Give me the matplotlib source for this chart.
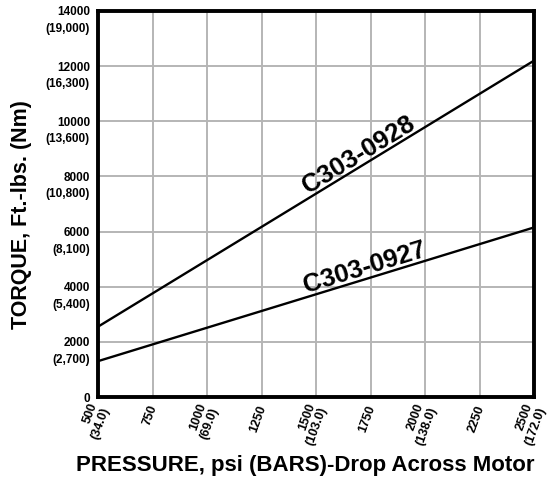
import matplotlib
matplotlib.use("Agg")
import matplotlib.pyplot as plt
import matplotlib.transforms as mtransforms
import numpy as np

plt.rcParams['font.family'] = ['Liberation Sans', 'DejaVu Sans']
plt.rcParams['font.weight'] = 'bold'

# Pressure drop (psi) and torque (ft-lbs) for the two motors
pressure = [500, 2500]
torque_0928 = [2550, 12200]
torque_0927 = [1300, 6150]
series_names = ["C303-0928", "C303-0927"]

x_ticks = [500, 750, 1000, 1250, 1500, 1750, 2000, 2250, 2500]
x_tick_labels = ["500\n(34.0)", "750", "1000\n(69.0)", "1250", "1500\n(103.0)",
                 "1750", "2000\n(138.0)", "2250", "2500\n(172.0)"]
y_ticks = [0, 2000, 4000, 6000, 8000, 10000, 12000, 14000]
y_tick_labels = ["0", "2000\n(2,700)", "4000\n(5,400)", "6000\n(8,100)",
                 "8000\n(10,800)", "10000\n(13,600)", "12000\n(16,300)",
                 "14000\n(19,000)"]
label_x = [1725, 1740]

fig = plt.figure(figsize=(5.51, 4.81), dpi=100)
ax = fig.add_axes([98 / 551, 1 - 398 / 481, 436 / 551, 386 / 481])

ax.set_xlim(500, 2500)
ax.set_ylim(0, 14000)

ax.grid(True, color='#b5b5b5', linewidth=1.4)
ax.set_axisbelow(True)

ax.plot(pressure, torque_0928, color='black', linewidth=1.7, solid_capstyle='butt')
ax.plot(pressure, torque_0927, color='black', linewidth=1.7, solid_capstyle='butt')

for sp in ax.spines.values():
    sp.set_linewidth(2.8)
    sp.set_color('black')

ax.set_xticks(x_ticks)
ax.set_xticklabels(x_tick_labels, rotation=70, ha='right', va='center_baseline',
                   rotation_mode='anchor', multialignment='right',
                   fontsize=9, fontweight='bold', linespacing=1.1)
ax.tick_params(axis='x', length=0, pad=5)

# y tick labels: first line centred on the gridline, metric value beneath it
ax.set_yticks(y_ticks)
ax.set_yticklabels([])
ax.tick_params(axis='y', length=0)
ytrans = ax.get_yaxis_transform() + mtransforms.ScaledTranslation(
    -8 / 100, 5.5 / 100, fig.dpi_scale_trans)
for v, lab in zip(y_ticks, y_tick_labels):
    ax.text(0, v, lab, transform=ytrans, ha='right', va='top',
            multialignment='right', fontsize=8.5, fontweight='bold',
            linespacing=1.5, clip_on=False)

fig.text(22 / 551, 1 - 215 / 481, "TORQUE, Ft.-lbs. (Nm)", rotation=90,
         ha='center', va='center', fontsize=15.5, fontweight='bold')
fig.text(305 / 551, 1 - 466 / 481, "PRESSURE, psi (BARS)-Drop Across Motor",
         ha='center', va='center', fontsize=16, fontweight='bold')

# Series names written along their lines
fig.canvas.draw()
for name, ys, lx in zip(series_names, [torque_0928, torque_0927], label_x):
    slope = (ys[1] - ys[0]) / (pressure[1] - pressure[0])
    ly = ys[0] + slope * (lx - pressure[0])
    ang = ax.transData.transform_angles(
        np.array([np.degrees(np.arctan2(ys[1] - ys[0], pressure[1] - pressure[0]))]),
        np.array([[lx, ly]]))[0]
    ax.text(lx, ly, name, rotation=ang, rotation_mode='anchor', ha='center',
            va='bottom', fontsize=18.5, fontweight='bold')

fig.savefig("out.png", dpi=100)
